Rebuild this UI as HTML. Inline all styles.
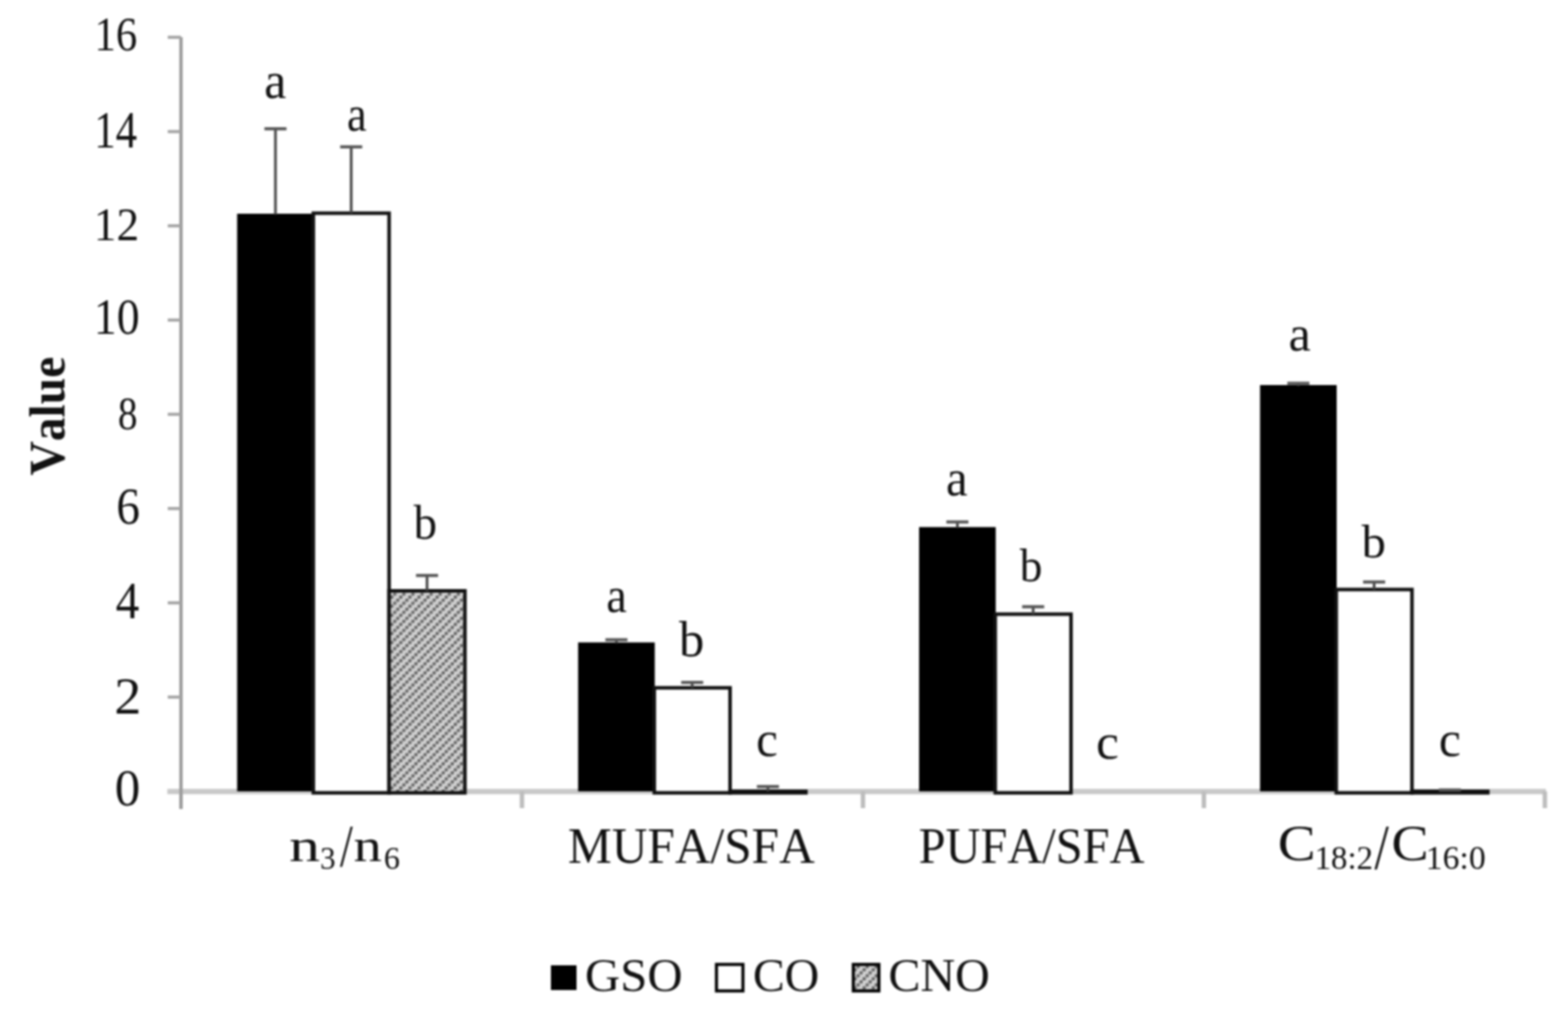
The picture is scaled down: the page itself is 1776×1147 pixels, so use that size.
<!DOCTYPE html>
<html><head><meta charset="utf-8"><style>
html,body{margin:0;padding:0;background:#fff;overflow:hidden;}
svg{display:block;}
.wrap{filter:blur(1px);width:1776px;height:1147px;}
.t{font-kerning:none;font-feature-settings:"kern" 0;font-family:"Liberation Serif","Times New Roman",serif;fill:#111;}
.tb{font-kerning:none;font-feature-settings:"kern" 0;font-family:"Liberation Serif","Times New Roman",serif;font-weight:bold;fill:#111;}
</style></head><body>
<div class="wrap"><svg width="1776" height="1147" viewBox="0 0 1776 1147">
<defs>
<pattern id="hatch" patternUnits="userSpaceOnUse" width="10.29" height="10.29" patternTransform="translate(9.8,9.0)">
<rect width="10.29" height="10.29" fill="#d2d2d2"/>
<rect x="6.86" y="0" width="3.43" height="3.43" fill="#5e5e5e"/>
<rect x="3.43" y="3.43" width="3.43" height="3.43" fill="#5e5e5e"/>
<rect x="0" y="6.86" width="3.43" height="3.43" fill="#5e5e5e"/>
</pattern>
</defs>
<rect x="0" y="0" width="1776" height="1147" fill="#fff"/>
<line x1="205" y1="42" x2="205" y2="916" stroke="#9c9c9c" stroke-width="3.8"/>
<text class="t" style="font-size:56.00px" transform="translate(130.00,912.02) scale(1.0323,1.0559)">0</text>
<line x1="190" y1="789.3" x2="205" y2="789.3" stroke="#a4a4a4" stroke-width="3.5"/>
<text class="t" style="font-size:56.00px" transform="translate(129.51,807.90) scale(1.0914,1.0383)">2</text>
<line x1="190" y1="682.6" x2="205" y2="682.6" stroke="#a4a4a4" stroke-width="3.5"/>
<text class="t" style="font-size:56.00px" transform="translate(131.05,700.00) scale(0.9565,1.0418)">4</text>
<line x1="190" y1="575.8" x2="205" y2="575.8" stroke="#a4a4a4" stroke-width="3.5"/>
<text class="t" style="font-size:56.00px" transform="translate(131.80,592.93) scale(0.9571,1.0419)">6</text>
<line x1="190" y1="469.1" x2="205" y2="469.1" stroke="#a4a4a4" stroke-width="3.5"/>
<text class="t" style="font-size:56.00px" transform="translate(133.60,485.67) scale(0.7963,0.9606)">8</text>
<line x1="190" y1="362.4" x2="205" y2="362.4" stroke="#a4a4a4" stroke-width="3.5"/>
<text class="t" style="font-size:56.00px" transform="translate(106.24,378.23) scale(0.9255,1.0347)">10</text>
<line x1="190" y1="255.7" x2="205" y2="255.7" stroke="#a4a4a4" stroke-width="3.5"/>
<text class="t" style="font-size:56.00px" transform="translate(106.30,271.50) scale(0.9148,0.9601)">12</text>
<line x1="190" y1="149.0" x2="205" y2="149.0" stroke="#a4a4a4" stroke-width="3.5"/>
<text class="t" style="font-size:56.00px" transform="translate(106.74,166.80) scale(0.8665,1.0387)">14</text>
<line x1="190" y1="42.2" x2="205" y2="42.2" stroke="#a4a4a4" stroke-width="3.5"/>
<text class="t" style="font-size:56.00px" transform="translate(106.95,56.97) scale(0.8642,0.9648)">16</text>
<line x1="189.5" y1="896.3" x2="1751" y2="896.3" stroke="#c9c9c9" stroke-width="6"/>
<line x1="591.2" y1="896" x2="591.2" y2="915" stroke="#bdbdbd" stroke-width="5"/>
<line x1="977.4" y1="896" x2="977.4" y2="915" stroke="#bdbdbd" stroke-width="5"/>
<line x1="1363.6" y1="896" x2="1363.6" y2="915" stroke="#bdbdbd" stroke-width="5"/>
<line x1="1749.8" y1="896" x2="1749.8" y2="915" stroke="#bdbdbd" stroke-width="5"/>
<line x1="205" y1="893" x2="205" y2="916" stroke="#9c9c9c" stroke-width="3.8"/>
<rect x="268.6" y="242.0" width="86.8" height="654.0" fill="#000"/>
<rect x="354.9" y="241.4" width="85.8" height="656.3" fill="#fff" stroke="#111" stroke-width="4" stroke-linejoin="miter"/>
<rect x="440.7" y="669.0" width="85.9" height="228.7" fill="url(#hatch)" stroke="#111" stroke-width="4" stroke-linejoin="miter"/>
<rect x="654.8" y="727.4" width="86.8" height="168.6" fill="#000"/>
<rect x="741.1" y="778.8" width="85.8" height="118.9" fill="#fff" stroke="#111" stroke-width="4" stroke-linejoin="miter"/>
<rect x="826.9" y="896.0" width="85.9" height="1.7" fill="url(#hatch)" stroke="#111" stroke-width="4" stroke-linejoin="miter"/>
<rect x="1041.0" y="596.8" width="86.8" height="299.2" fill="#000"/>
<rect x="1127.3" y="695.4" width="85.8" height="202.3" fill="#fff" stroke="#111" stroke-width="4" stroke-linejoin="miter"/>
<rect x="1427.2" y="436.0" width="86.8" height="460.0" fill="#000"/>
<rect x="1513.5" y="667.5" width="85.8" height="230.2" fill="#fff" stroke="#111" stroke-width="4" stroke-linejoin="miter"/>
<rect x="1599.3" y="896.0" width="85.9" height="1.7" fill="url(#hatch)" stroke="#111" stroke-width="4" stroke-linejoin="miter"/>
<line x1="312.0" y1="243.0" x2="312.0" y2="145.8" stroke="#444" stroke-width="3"/>
<line x1="299.5" y1="145.8" x2="324.5" y2="145.8" stroke="#555" stroke-width="3.5"/>
<line x1="397.8" y1="241.4" x2="397.8" y2="166.3" stroke="#444" stroke-width="3"/>
<line x1="385.3" y1="166.3" x2="410.3" y2="166.3" stroke="#555" stroke-width="3.5"/>
<line x1="483.7" y1="669.0" x2="483.7" y2="651.6" stroke="#444" stroke-width="3"/>
<line x1="471.2" y1="651.6" x2="496.2" y2="651.6" stroke="#555" stroke-width="3.5"/>
<line x1="698.2" y1="728.4" x2="698.2" y2="724.4" stroke="#444" stroke-width="3"/>
<line x1="685.7" y1="724.4" x2="710.7" y2="724.4" stroke="#555" stroke-width="3.5"/>
<line x1="784.0" y1="778.8" x2="784.0" y2="772.7" stroke="#444" stroke-width="3"/>
<line x1="771.5" y1="772.7" x2="796.5" y2="772.7" stroke="#555" stroke-width="3.5"/>
<line x1="869.8" y1="896.0" x2="869.8" y2="890.6" stroke="#444" stroke-width="3"/>
<line x1="857.3" y1="890.6" x2="882.3" y2="890.6" stroke="#555" stroke-width="3.5"/>
<line x1="1084.4" y1="597.8" x2="1084.4" y2="591.0" stroke="#444" stroke-width="3"/>
<line x1="1071.9" y1="591.0" x2="1096.9" y2="591.0" stroke="#555" stroke-width="3.5"/>
<line x1="1170.2" y1="695.4" x2="1170.2" y2="687.0" stroke="#444" stroke-width="3"/>
<line x1="1157.7" y1="687.0" x2="1182.7" y2="687.0" stroke="#555" stroke-width="3.5"/>
<line x1="1470.6" y1="437.0" x2="1470.6" y2="434.0" stroke="#444" stroke-width="3"/>
<line x1="1458.1" y1="434.0" x2="1483.1" y2="434.0" stroke="#555" stroke-width="3.5"/>
<line x1="1556.4" y1="667.5" x2="1556.4" y2="659.0" stroke="#444" stroke-width="3"/>
<line x1="1543.9" y1="659.0" x2="1568.9" y2="659.0" stroke="#555" stroke-width="3.5"/>
<line x1="1642.2" y1="896.0" x2="1642.2" y2="894.5" stroke="#444" stroke-width="3"/>
<line x1="1629.7" y1="894.5" x2="1654.7" y2="894.5" stroke="#555" stroke-width="3.5"/>
<text class="t" style="font-size:56.00px" transform="translate(299.32,111.22) scale(1.0081,1.0662)">a</text>
<text class="t" style="font-size:56.00px" transform="translate(393.03,148.44) scale(0.8996,1.0177)">a</text>
<text class="t" style="font-size:56.00px" transform="translate(468.40,610.07) scale(0.9471,0.9746)">b</text>
<text class="t" style="font-size:56.00px" transform="translate(686.76,692.84) scale(0.9358,1.0215)">a</text>
<text class="t" style="font-size:56.00px" transform="translate(769.00,742.75) scale(1.0245,1.0126)">b</text>
<text class="t" style="font-size:56.00px" transform="translate(856.60,856.14) scale(0.9857,1.0210)">c</text>
<text class="t" style="font-size:56.00px" transform="translate(1071.56,561.11) scale(0.9855,1.0699)">a</text>
<text class="t" style="font-size:56.00px" transform="translate(1155.00,658.19) scale(0.9162,0.9416)">b</text>
<text class="t" style="font-size:56.00px" transform="translate(1241.49,858.95) scale(1.0381,1.0025)">c</text>
<text class="t" style="font-size:56.00px" transform="translate(1459.41,397.25) scale(1.0126,1.0066)">a</text>
<text class="t" style="font-size:56.00px" transform="translate(1542.30,630.88) scale(0.9819,0.9568)">b</text>
<text class="t" style="font-size:56.00px" transform="translate(1629.87,856.14) scale(1.0000,1.0285)">c</text>
<text class="t" style="font-size:56.00px" transform="translate(327.40,974.50) scale(1.2487,0.9588)">n</text>
<text class="t" style="font-size:37.00px" transform="translate(362.51,984.04) scale(0.9552,0.9896)">3</text>
<text class="t" style="font-size:56.00px" transform="translate(384.90,980.14) scale(0.9384,1.2093)">/</text>
<text class="t" style="font-size:56.00px" transform="translate(400.53,974.50) scale(1.1404,0.9588)">n</text>
<text class="t" style="font-size:37.00px" transform="translate(434.63,984.04) scale(0.9868,0.9896)">6</text>
<text class="t" style="font-size:56.00px" transform="translate(643.29,976.84) scale(0.9979,1.0153)">MUFA/SFA</text>
<text class="t" style="font-size:56.00px" transform="translate(1040.52,976.75) scale(0.9787,1.0020)">PUFA/SFA</text>
<text class="t" style="font-size:58.00px" transform="translate(1447.16,973.93) scale(1.1116,1.0008)">C</text>
<text class="t" style="font-size:37.00px" transform="translate(1488.92,984.28) scale(1.0085,0.9988)">18:2</text>
<text class="t" style="font-size:56.00px" transform="translate(1556.70,983.29) scale(1.0477,1.2947)">/</text>
<text class="t" style="font-size:58.00px" transform="translate(1576.01,973.93) scale(1.0904,1.0008)">C</text>
<text class="t" style="font-size:37.00px" transform="translate(1614.84,984.28) scale(1.0324,0.9988)">16:0</text>
<text class="tb" style="font-size:53.72px" transform="translate(73.2,538.30) rotate(-90) scale(1,1.0804)">Value</text>
<rect x="624" y="1093" width="29" height="28" fill="#000"/>
<text class="t" style="font-size:54.00px" transform="translate(662.53,1122.28) scale(1.0232,0.9922)">GSO</text>
<rect x="811.5" y="1092" width="30" height="30" fill="#fff" stroke="#000" stroke-width="3.5"/>
<text class="t" style="font-size:54.00px" transform="translate(852.68,1122.28) scale(1.0045,0.9922)">CO</text>
<rect x="966.5" y="1092" width="29" height="30" fill="url(#hatch)" stroke="#000" stroke-width="3.5"/>
<text class="t" style="font-size:54.00px" transform="translate(1006.16,1122.28) scale(1.0093,0.9922)">CNO</text>
</svg></div>
</body></html>
